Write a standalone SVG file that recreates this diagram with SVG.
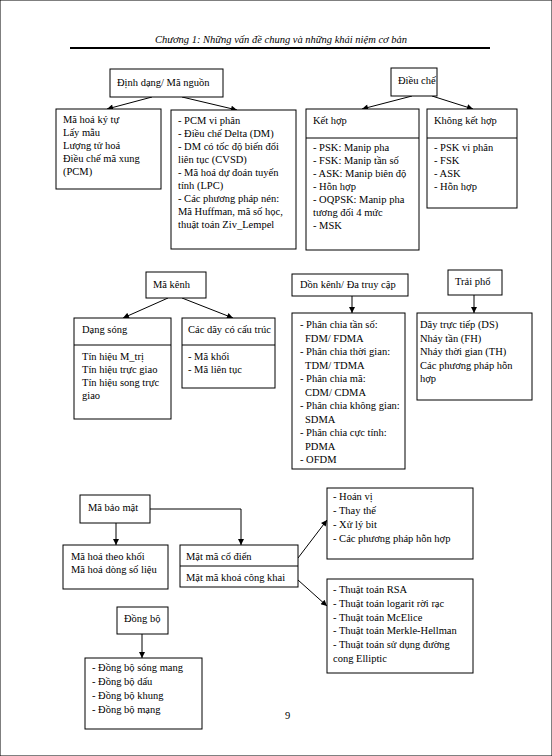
<svg xmlns="http://www.w3.org/2000/svg" width="552" height="756" viewBox="0 0 552 756">
<defs>
<marker id="ah" viewBox="0 0 10 10" refX="10" refY="5" markerWidth="7" markerHeight="6" markerUnits="userSpaceOnUse" orient="auto">
<path d="M0,0 L10,5 L0,10 z" fill="#000"/>
</marker>
</defs>
<style>
text{font-family:"Liberation Serif","Times New Roman",serif;font-size:10.5px;fill:#000}
.hdr{font-style:italic;font-size:10.5px}
rect{fill:#fff;stroke:#000;stroke-width:1}
.sh{fill:#888;stroke:none}
.dv{stroke:#000;stroke-width:1}
.c{fill:none;stroke:#000;stroke-width:1;marker-end:url(#ah)}
</style>
<rect width="552" height="756" fill="#fff" stroke="none"/>
<g id="header">
<text class="hdr" x="281" y="43" text-anchor="middle">Chương 1: Những vấn đề chung và những khái niệm cơ bản</text>
<line x1="70" y1="48" x2="490" y2="48" stroke="#000" stroke-width="2"/>
</g>
<g id="connectors">
<line class="c" x1="152" y1="97" x2="107" y2="109"/>
<line class="c" x1="182" y1="97" x2="237" y2="110"/>
<line class="c" x1="412" y1="96" x2="362" y2="109"/>
<line class="c" x1="432" y1="96" x2="473" y2="109"/>
<line class="c" x1="168" y1="298" x2="123" y2="318"/>
<line class="c" x1="182" y1="298" x2="233" y2="318"/>
<line class="c" x1="352" y1="296" x2="352" y2="313"/>
<line class="c" x1="474" y1="295" x2="474" y2="313"/>
<line class="c" x1="116" y1="523" x2="116" y2="545"/>
<polyline class="c" points="150,509 241,509 241,545"/>
<line class="c" x1="298" y1="558" x2="327" y2="520"/>
<line class="c" x1="298" y1="580" x2="327" y2="606"/>
<line class="c" x1="142" y1="634" x2="142" y2="658"/>
</g>
<g id="dinhdang">
<rect x="110" y="69" width="113" height="28"/>
<text x="117" y="86">Định dạng/ Mã nguồn</text>
</g>
<g id="dinhdang-a">
<rect x="56" y="109" width="105" height="80"/>
<text x="63" y="123">Mã hoá ký tự</text>
<text x="63" y="136">Lấy mẫu</text>
<text x="63" y="149">Lượng tử hoá</text>
<text x="63" y="162">Điều chế mã xung</text>
<text x="63" y="175">(PCM)</text>
</g>
<g id="dinhdang-b">
<rect x="171" y="110" width="125" height="139"/>
<text x="178" y="123.5">- PCM vi phân</text>
<text x="178" y="136.5">- Điều chế Delta (DM)</text>
<text x="178" y="149.5">- DM có tốc độ biến đổi</text>
<text x="178" y="162.5">liên tục (CVSD)</text>
<text x="178" y="175.5">- Mã hoá dự đoán tuyến</text>
<text x="178" y="188.5">tính (LPC)</text>
<text x="178" y="201.5">- Các phương pháp nén:</text>
<text x="178" y="214.5">Mã Huffman, mã số học,</text>
<text x="178" y="227.5">thuật toán Ziv_Lempel</text>
</g>
<g id="dieuche">
<rect x="391" y="68" width="46" height="28"/>
<text x="398" y="84">Điều chế</text>
</g>
<g id="kethop">
<rect x="306" y="109" width="113" height="141"/>
<line class="dv" x1="306" y1="138" x2="419" y2="138"/>
<text x="313" y="124">Kết hợp</text>
<text x="313" y="151">- PSK: Manip pha</text>
<text x="313" y="164">- FSK: Manip tần số</text>
<text x="313" y="177">- ASK: Manip biên độ</text>
<text x="313" y="190">- Hỗn hợp</text>
<text x="313" y="203">- OQPSK: Manip pha</text>
<text x="313" y="216">tương đối 4 mức</text>
<text x="313" y="229">- MSK</text>
</g>
<g id="khongkethop">
<rect x="427" y="109" width="90" height="99"/>
<line class="dv" x1="427" y1="138" x2="517" y2="138"/>
<text x="434" y="124">Không kết hợp</text>
<text x="434" y="151">- PSK vi phân</text>
<text x="434" y="164">- FSK</text>
<text x="434" y="177">- ASK</text>
<text x="434" y="190">- Hỗn hợp</text>
</g>
<g id="makenh">
<rect x="146" y="272" width="60" height="26"/>
<text x="153" y="288">Mã kênh</text>
</g>
<g id="dangsong">
<rect x="74" y="318" width="97" height="101"/>
<line class="dv" x1="74" y1="345" x2="171" y2="345"/>
<text x="82" y="333">Dạng sóng</text>
<text x="82" y="360">Tín hiệu M_trị</text>
<text x="82" y="373">Tín hiệu trực giao</text>
<text x="82" y="386">Tín hiệu song trực</text>
<text x="82" y="399">giao</text>
</g>
<g id="caday">
<rect x="182" y="318" width="93" height="70"/>
<line class="dv" x1="182" y1="345" x2="275" y2="345"/>
<text x="188" y="333">Các dãy có cấu trúc</text>
<text x="188" y="360">- Mã khối</text>
<text x="188" y="373">- Mã liên tục</text>
</g>
<g id="donkenh">
<rect x="292" y="274" width="116" height="22"/>
<text x="300" y="288">Dồn kênh/ Đa truy cập</text>
</g>
<g id="donkenh-list">
<rect x="292" y="313" width="113" height="156"/>
<text x="300" y="328">- Phân chia tần số:</text>
<text x="305" y="341.5">FDM/ FDMA</text>
<text x="300" y="355">- Phân chia thời gian:</text>
<text x="305" y="368.5">TDM/ TDMA</text>
<text x="300" y="382">- Phân chia mã:</text>
<text x="305" y="395.5">CDM/ CDMA</text>
<text x="300" y="409">- Phân chia không gian:</text>
<text x="305" y="422.5">SDMA</text>
<text x="300" y="436">- Phân chia cực tính:</text>
<text x="305" y="449.5">PDMA</text>
<text x="300" y="463">- OFDM</text>
</g>
<g id="traipho">
<rect x="448" y="270" width="54" height="25"/>
<text x="455" y="285">Trải phổ</text>
</g>
<g id="traipho-list">
<rect x="417" y="313" width="115" height="87"/>
<text x="420" y="328">Dãy trực tiếp (DS)</text>
<text x="420" y="341.5">Nháy tần (FH)</text>
<text x="420" y="355">Nháy thời gian (TH)</text>
<text x="420" y="368.5">Các phương pháp hỗn</text>
<text x="420" y="382">hợp</text>
</g>
<g id="mabaomat">
<rect x="80" y="495" width="70" height="28"/>
<text x="88" y="511">Mã bảo mật</text>
</g>
<g id="mahoa">
<rect x="63" y="545" width="105" height="44"/>
<text x="71" y="560">Mã hoá theo khối</text>
<text x="71" y="573">Mã hoá dòng số liệu</text>
</g>
<g id="matma">
<rect x="180" y="545" width="118" height="42"/>
<line class="dv" x1="180" y1="566" x2="298" y2="566"/>
<text x="186" y="560">Mật mã cổ điển</text>
<text x="186" y="581">Mật mã khoá công khai</text>
</g>
<g id="codien-list">
<rect x="327" y="488" width="146" height="71"/>
<text x="333" y="500">- Hoán vị</text>
<text x="333" y="514">- Thay thế</text>
<text x="333" y="528">- Xử lý bit</text>
<text x="333" y="542">- Các phương pháp hỗn hợp</text>
</g>
<g id="congkhai-list">
<rect x="327" y="579" width="146" height="94"/>
<text x="333" y="593">- Thuật toán RSA</text>
<text x="333" y="606.8">- Thuật toán logarit rời rạc</text>
<text x="333" y="620.6">- Thuật toán McElice</text>
<text x="333" y="634.4">- Thuật toán Merkle-Hellman</text>
<text x="333" y="648.2">- Thuật toán sử dụng đường</text>
<text x="333" y="662">cong Elliptic</text>
</g>
<g id="dongbo">
<rect x="117" y="607" width="51" height="27"/>
<text x="124" y="622">Đồng bộ</text>
</g>
<g id="dongbo-list">
<rect x="85" y="658" width="117" height="71"/>
<text x="92" y="671">- Đồng bộ sóng mang</text>
<text x="92" y="685">- Đồng bộ dấu</text>
<text x="92" y="699">- Đồng bộ khung</text>
<text x="92" y="713">- Đồng bộ mạng</text>
</g>
<g id="page">
<text x="285" y="719">9</text>
</g>
</svg>
